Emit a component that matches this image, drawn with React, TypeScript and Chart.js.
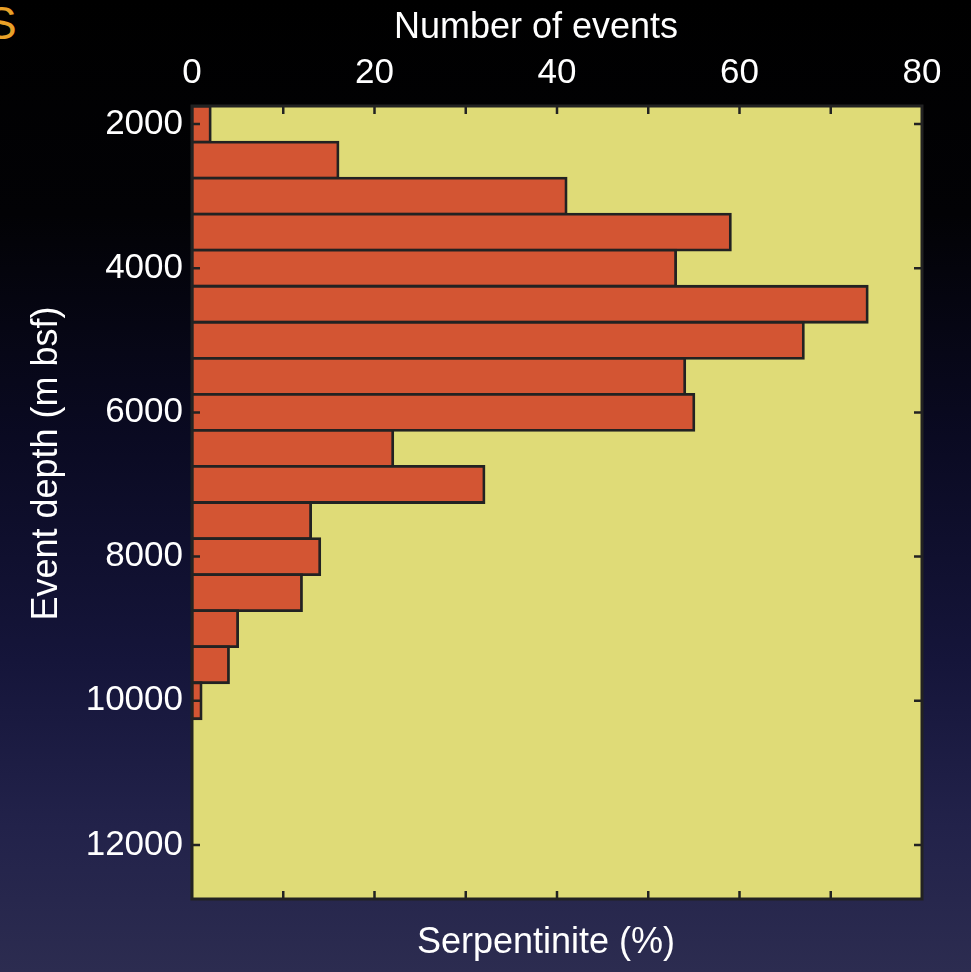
import React, { useEffect, useRef } from 'react';
import { Chart, registerables } from 'chart.js';

Chart.register(...registerables);

// Bin centres (m bsf), 500 m bins
const depthBins = [2000, 2500, 3000, 3500, 4000, 4500, 5000, 5500, 6000, 6500, 7000, 7500, 8000, 8500, 9000, 9500, 10000];
// Number of events per bin
const eventCounts = [2, 16, 41, 59, 53, 74, 67, 54, 55, 22, 32, 13, 14, 12, 5, 4, 1];
const depthTicks = [2000, 4000, 6000, 8000, 10000, 12000];
const countTicks = [0, 10, 20, 30, 40, 50, 60, 70, 80];
const countLabels = [0, 20, 40, 60, 80];
const depthRange = [1750, 12750];
const countRange = [0, 80];
const topTitle = 'Number of events';
const bottomTitle = 'Serpentinite (%)';
const leftTitle = 'Event depth (m bsf)';

const FONT = "'Liberation Sans', Arial, Helvetica, sans-serif";
const TEXT = '#ffffff';
const INK = '#222222';

const plotFrame = {
  id: 'plotFrame',
  beforeDatasetsDraw(chart: any) {
    const { ctx, chartArea } = chart;
    const { left, right, top, bottom } = chartArea;
    ctx.save();
    ctx.fillStyle = '#dfdb77';
    ctx.fillRect(left, top, right - left, bottom - top);
    ctx.restore();
  },
  afterDatasetsDraw(chart: any) {
    const { ctx, chartArea, scales } = chart;
    const { left, right, top, bottom } = chartArea;
    const x = scales.x;
    const y = scales.y;
    ctx.save();
    ctx.strokeStyle = INK;
    ctx.lineWidth = 2.5;
    ctx.beginPath();
    x.ticks.forEach((t: any) => {
      if (t.value <= x.min || t.value >= x.max) return;
      const px = x.getPixelForValue(t.value);
      ctx.moveTo(px, top);
      ctx.lineTo(px, top + 8);
      ctx.moveTo(px, bottom);
      ctx.lineTo(px, bottom - 8);
    });
    y.ticks.forEach((t: any) => {
      const py = y.getPixelForValue(t.value);
      ctx.moveTo(left, py);
      ctx.lineTo(left + 8, py);
      ctx.moveTo(right, py);
      ctx.lineTo(right - 8, py);
    });
    ctx.stroke();
    ctx.lineWidth = 3;
    ctx.strokeRect(left, top, right - left, bottom - top);
    ctx.restore();
  },
  afterDraw(chart: any) {
    const { ctx, chartArea } = chart;
    const { left, right, top, bottom } = chartArea;
    const cx = (left + right) / 2;
    const cy = (top + bottom) / 2;
    ctx.save();
    ctx.fillStyle = TEXT;
    ctx.font = `36px ${FONT}`;
    ctx.textAlign = 'center';
    ctx.textBaseline = 'middle';
    ctx.fillText(topTitle, cx - 21, top - 78);
    ctx.fillText(bottomTitle, cx - 11, bottom + 44);
    ctx.translate(left - 145, cy - 39);
    ctx.rotate(-Math.PI / 2);
    ctx.fillText(leftTitle, 0, 0);
    ctx.restore();
  },
};

export default function App() {
  const canvasRef = useRef<HTMLCanvasElement | null>(null);

  useEffect(() => {
    if (!canvasRef.current) return;
    const font = { family: FONT, size: 35, lineHeight: 1.2 };
    const chart = new Chart(canvasRef.current, {
      type: 'bar',
      data: {
        datasets: [
          {
            data: depthBins.map((d, i) => ({ x: eventCounts[i], y: d })),
            backgroundColor: '#d35533',
            borderColor: INK,
            borderWidth: 2.8,
            borderSkipped: false,
            inflateAmount: 1.4,
            barPercentage: 1,
            categoryPercentage: 1,
            xAxisID: 'x',
            yAxisID: 'y',
          } as any,
        ],
      },
      options: {
        indexAxis: 'y',
        responsive: false,
        animation: false,
        layout: { padding: { left: 0, right: 49, top: 0, bottom: 0 } },
        plugins: { legend: { display: false }, tooltip: { enabled: false } },
        scales: {
          x: {
            type: 'linear',
            position: 'top',
            min: countRange[0],
            max: countRange[1],
            offset: false,
            afterBuildTicks: (s: any) => {
              s.ticks = countTicks.map((v) => ({ value: v }));
            },
            afterFit: (s: any) => {
              s.height = 106;
            },
            ticks: {
              color: TEXT,
              font,
              padding: 12,
              autoSkip: false,
              maxRotation: 0,
              callback: (v: any) => (countLabels.includes(Number(v)) ? String(v) : ''),
            },
            grid: { display: false, drawTicks: false },
            border: { display: false },
          },
          x2: {
            type: 'linear',
            position: 'bottom',
            min: countRange[0],
            max: countRange[1],
            offset: false,
            afterFit: (s: any) => {
              s.height = 73;
            },
            ticks: { display: false },
            grid: { display: false, drawTicks: false },
            border: { display: false },
          },
          y: {
            type: 'linear',
            position: 'left',
            reverse: true,
            offset: false,
            min: depthRange[0],
            max: depthRange[1],
            afterBuildTicks: (s: any) => {
              s.ticks = depthTicks.map((v) => ({ value: v }));
            },
            afterFit: (s: any) => {
              s.width = 192;
            },
            ticks: {
              color: TEXT,
              font,
              padding: 9,
              autoSkip: false,
              callback: (v: any) => String(v),
            },
            grid: { display: false, drawTicks: false, offset: false },
            border: { display: false },
          },
        },
      } as any,
      plugins: [plotFrame],
    });
    return () => chart.destroy();
  }, []);

  return (
    <div
      style={{
        position: 'fixed',
        left: 0,
        top: 0,
        width: 971,
        height: 972,
        overflow: 'hidden',
        background:
          'linear-gradient(to bottom, #000000 0%, #020205 22%, #0a0a22 45%, #15153a 68%, #22224a 85%, #2c2c50 100%)',
      }}
    >
      <span
        style={{
          position: 'absolute',
          left: -14,
          top: 0,
          fontFamily: FONT,
          fontSize: 46,
          color: '#e9a128',
          lineHeight: 1,
        }}
      >
        S
      </span>
      <canvas ref={canvasRef} width={971} height={972} style={{ position: 'absolute', left: 0, top: 0 }} />
    </div>
  );
}
